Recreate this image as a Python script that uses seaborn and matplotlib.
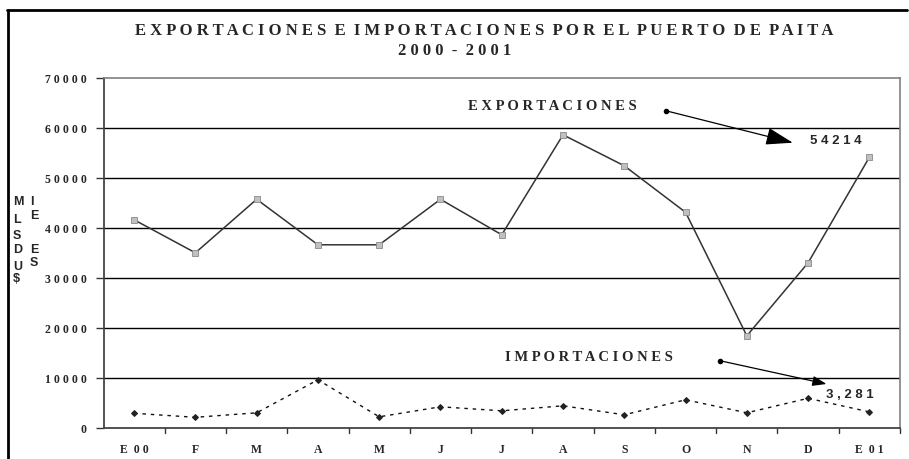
import matplotlib
matplotlib.use("Agg")
import matplotlib.pyplot as plt
import seaborn as sns
import pandas as pd
from matplotlib.lines import Line2D

months = ["E 00", "F", "M", "A", "M", "J", "J", "A", "S", "O", "N", "D", "E 01"]
exportaciones = [41700, 35100, 45800, 36700, 36700, 45800, 38700, 58700, 52500, 43200, 18500, 33100, 54214]
importaciones = [3000, 2200, 3100, 9700, 2300, 4300, 3500, 4500, 2700, 5700, 3100, 6000, 3281]
yticks = [0, 10000, 20000, 30000, 40000, 50000, 60000, 70000]

title_l1 = "EXPORTACIONES E IMPORTACIONES POR EL PUERTO DE PAITA"
title_l2 = "2000 - 2001"
ylabel_cols = (["M", "L", "S", "D", "U", "$"], ["I", "E", "", "E", "S", ""])


def spaced_words(s):
    return "  ".join(" ".join(list(w)) for w in s.split(" "))


sns.set_theme(style="white")
plt.rcParams['font.family'] = ['DejaVu Sans']

df = pd.DataFrame({"idx": range(len(months)), "exp": exportaciones, "imp": importaciones})

fig = plt.figure(figsize=(9.09, 4.59), dpi=100)
ax = fig.add_axes([103.5 / 909, 30.7 / 459, (900 - 103.5) / 909, (428.3 - 78.3) / 459])

sns.lineplot(data=df, x="idx", y="exp", ax=ax, color="#333333", linewidth=1.1,
             marker="s", markersize=5, markerfacecolor="#c0c0c0",
             markeredgecolor="#888888", markeredgewidth=0.6)
sns.lineplot(data=df, x="idx", y="imp", ax=ax, color="#111111", linewidth=1.0,
             linestyle=(0, (2.5, 3.5)), marker="D", markersize=3,
             markerfacecolor="#222222", markeredgecolor="#222222")

ax.set_xlim(-0.5, len(months) - 0.5)
ax.set_ylim(0, 70000)
ax.set_yticks(yticks)
ax.set_yticklabels([" ".join(str(v)) for v in yticks],
                   fontfamily="Liberation Serif", fontweight="bold", fontsize=8.5)
ax.set_xticks(range(len(months)))
ax.set_xticklabels([spaced_words(m) for m in months],
                   fontfamily="Liberation Serif", fontweight="bold", fontsize=8.5)
ax.tick_params(axis="x", length=0, pad=11)
ax.tick_params(axis="y", length=6, width=1, color="#333333", direction="out", pad=6, left=True)
for b in [i + 0.5 for i in range(len(months) - 1)] + [len(months) - 0.5]:
    ax.plot([b, b], [0, -900], color="#333333", lw=1, clip_on=False)

for y in yticks[1:-1]:
    ax.axhline(y, color="black", lw=1, zorder=0)
ax.set_xlabel("")
ax.set_ylabel("")
ax.grid(False)
for side in ["left", "bottom"]:
    ax.spines[side].set_color("#444444")
    ax.spines[side].set_linewidth(1.3)
for side in ["top", "right"]:
    ax.spines[side].set_visible(True)
    ax.spines[side].set_color("#808080")
    ax.spines[side].set_linewidth(1.2)

# Title
fig.text(484 / 909, 1 - 31 / 459, spaced_words(title_l1), ha="center", va="center",
         fontfamily="Liberation Serif", fontweight="bold", fontsize=12)
fig.text(455 / 909, 1 - 51 / 459, spaced_words(title_l2), ha="center", va="center",
         fontfamily="Liberation Serif", fontweight="bold", fontsize=12)

# Y label
ys = [202, 220, 236, 250, 267, 279]
ys2 = [202, 216, 0, 250, 263, 0]
for c, y in zip(ylabel_cols[0], ys):
    fig.text(13 / 909, 1 - y / 459, c, ha="left", va="center",
             fontfamily="Liberation Sans", fontweight="bold", fontsize=9)
for c, y in zip(ylabel_cols[1], ys2):
    if c:
        fig.text(30 / 909, 1 - y / 459, c, ha="left", va="center",
                 fontfamily="Liberation Sans", fontweight="bold", fontsize=9)

# Annotations
ax.text(5.45, 64320, spaced_words("EXPORTACIONES"), ha="left", va="center",
        fontfamily="Liberation Serif", fontweight="bold", fontsize=10.5)
ax.annotate("", xy=(10.75, 57120), xytext=(8.676, 63520),
            arrowprops=dict(arrowstyle="-|>,head_length=1.4,head_width=0.45",
                            color="black", lw=0.9, shrinkA=0, shrinkB=0))
ax.plot([8.676], [63520], marker="o", markersize=3, color="black")
ax.text(11.03, 57460, " ".join(str(exportaciones[-1])), ha="left", va="center",
        fontfamily="Liberation Sans", fontweight="bold", fontsize=9.5)

ax.text(6.05, 14200, spaced_words("IMPORTACIONES"), ha="left", va="center",
        fontfamily="Liberation Serif", fontweight="bold", fontsize=10.5)
ax.annotate("", xy=(11.30, 8860), xytext=(9.56, 13520),
            arrowprops=dict(arrowstyle="-|>,head_length=0.7,head_width=0.25",
                            color="black", lw=0.9, shrinkA=0, shrinkB=0))
ax.plot([9.56], [13520], marker="o", markersize=4, color="black", markeredgewidth=0)
ax.text(11.30, 6660, " ".join("3,281"), ha="left", va="center",
        fontfamily="Liberation Sans", fontweight="bold", fontsize=9.5)

# Outer frame
fig.add_artist(Line2D([8 / 909, 8 / 909], [0, 1 - 10 / 459], color="black", lw=2,
                      transform=fig.transFigure))
fig.add_artist(Line2D([7 / 909, 907 / 909], [1 - 10 / 459, 1 - 10 / 459], color="black", lw=2,
                      transform=fig.transFigure))

fig.savefig("out.png", dpi=100, facecolor="white")
